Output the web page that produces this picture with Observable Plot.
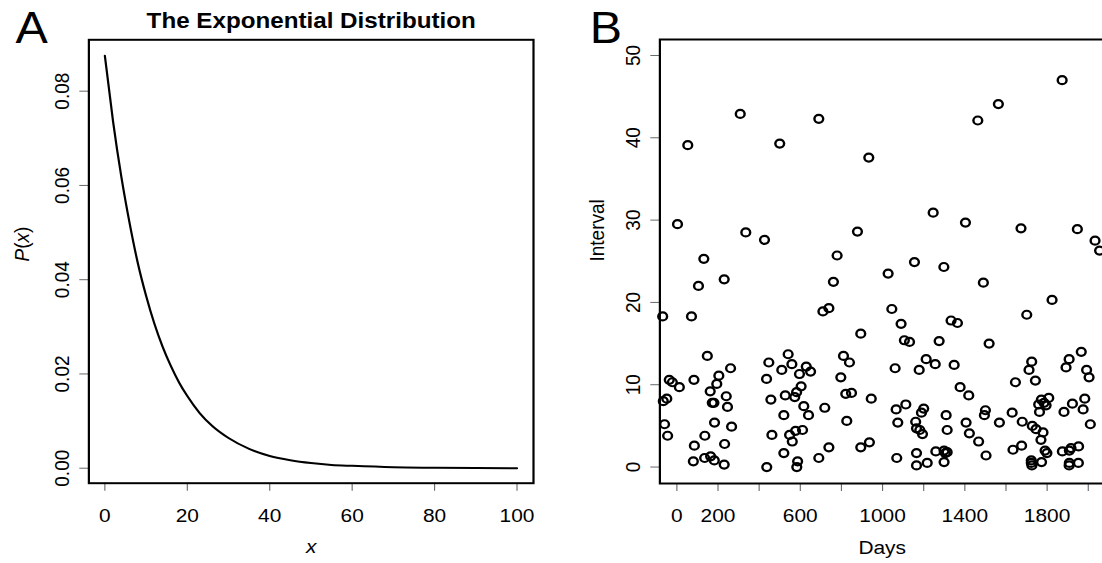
<!DOCTYPE html>
<html><head><meta charset="utf-8">
<script src="https://cdn.jsdelivr.net/npm/d3@7"></script>
<script src="https://cdn.jsdelivr.net/npm/@observablehq/plot@0.6"></script>
<style>
html,body{margin:0;padding:0;background:#fff;overflow:hidden;}
#outer{position:relative;width:1102px;height:563px;overflow:hidden;background:#fff;}
#inner{position:absolute;left:0;top:0;width:1100px;height:563px;transform:scaleX(1.1);transform-origin:0 0;}
#panelA,#panelB{position:absolute;top:0;}
#panelA{left:0;width:501px;} #panelB{left:501px;width:520px;}
#inner svg{max-width:none !important;}
</style></head><body>
<div id="outer"><div id="inner"><div id="panelA"></div><div id="panelB"></div></div></div>
<script>
// ---- Panel A: exponential density curve
const curveX = [0, 2, 4, 6, 8, 10, 12, 14, 16, 18, 20, 23, 26, 30, 35, 40, 45, 50, 55, 60, 70, 80, 90, 100];
const curveP = [0.0875, 0.0735, 0.0618, 0.0520, 0.0435, 0.0366, 0.0307, 0.0258, 0.0217, 0.0182, 0.0153, 0.0117, 0.0090, 0.0064, 0.0041, 0.0026, 0.0017, 0.0011, 0.0007, 0.0005, 0.0002, 0.0001, 0.00003, 0.00001];
const xTicksA = [0, 20, 40, 60, 80, 100];
const xTickLabelsA = ["0", "20", "40", "60", "80", "100"];
const yTicksA = [0, 0.02, 0.04, 0.06, 0.08];
const yTickLabelsA = ["0.00", "0.02", "0.04", "0.06", "0.08"];

// ---- Panel B: intervals vs days
const days = [53,308,500,690,3,335,426,1873,1563,1463,933,1246,1403,1673,1947,2033,2055,878,
779,131,105,230,761,-69,71,710,739,
148,447,541,510,559,629,650,596,261,
810,797,436,-37,-22,12,83,204,194,162,240,246,172,180,
604,582,573,527,457,617,640,719,520,
-66,-49,-60,-45,183,266,136,85,232,
80,135,164,182,230,
462,548,577,611,561,520,739,690,587,583,437,
1155,1027,1298,1490,1824,1701,1045,1090,1333,1364,894,1106,1131,1275,1518,
839,1061,1178,1212,1256,1348,1725,1712,1743,1646,1907,1892,1966,1992,2004,
1377,1419,821,849,945,1113,1066,1200,1189,1309,1500,1495,1630,1568,1679,1406,1422,1467,1314,
826,1074,1161,1165,1181,1194,
1759,1772,1808,1785,1795,1763,1923,1983,1975,1882,2010,
1728,1746,1780,1770,1790,1799,1634,1676,1874,1908,1916,1953,
1907,1908,1952,1723,1723,1726,1773,1503,
894,936,1069,1165,1165,1217,1259,1299,1314,1299,1305];
const intervals = [39.1,42.9,39.3,42.3,29.5,28.5,27.6,47.0,44.1,42.1,37.6,30.9,29.7,29.0,28.9,27.5,26.3,28.6,
25.7,25.3,22.0,22.8,22.5,18.3,18.3,18.9,19.3,
13.5,12.7,13.7,11.8,12.5,12.2,11.6,11.3,12.0,
13.5,10.9,10.7,10.6,10.3,9.7,10.6,11.1,10.1,9.2,8.6,7.3,7.8,7.8,
9.8,9.1,8.5,8.7,8.2,7.4,6.3,7.2,6.3,
8.0,8.3,5.2,3.8,5.4,4.9,3.8,2.6,2.8,
0.7,1.1,1.3,0.8,0.3,
3.9,3.9,4.4,4.5,3.1,1.7,2.4,1.1,0.7,0.0,0.0,
24.9,23.5,24.3,22.4,20.3,18.5,19.2,17.4,17.8,17.5,16.2,15.4,15.2,15.3,15.0,
12.7,12.0,11.8,13.1,12.5,12.4,12.8,11.8,10.5,10.3,13.1,12.1,14.0,11.8,10.9,
9.7,8.7,8.9,9.0,8.3,7.6,7.0,7.1,6.6,6.3,6.9,6.3,6.6,5.4,5.5,5.4,4.1,3.1,4.5,
5.6,5.4,5.5,4.7,4.5,4.0,
7.6,8.2,8.4,7.8,7.5,6.7,7.7,8.3,7.0,6.7,5.2,
5.0,4.6,4.2,3.3,2.0,1.7,2.1,2.6,1.9,2.0,2.3,2.5,
0.2,0.5,0.5,0.5,0.8,0.2,0.6,1.4,
2.4,3.0,1.1,1.7,0.2,0.5,1.9,2.0,1.8,0.6,1.7];
const xTicksB = [0, 200, 400, 600, 800, 1000, 1200, 1400, 1600, 1800, 2000];
const xTickLabelsB = ["0", "200", "", "600", "", "1000", "", "1400", "", "1800", ""];
const yTicksB = [0, 10, 20, 30, 40, 50];
const yTickLabelsB = ["0", "10", "20", "30", "40", "50"];

const FONT = '"Liberation Sans", Arial, Helvetica, sans-serif';
const curveData = curveX.map((x, i) => ({x, p: curveP[i]}));
const pointData = days.map((d, i) => ({day: d, interval: intervals[i]}));
const lab = (ticks, labels) => d => labels[ticks.indexOf(d)];

const axisStyle = {fontSize: 19, stroke: "#666", fill: "black", label: null};

const plotA = Plot.plot({
  width: 501, height: 563,
  marginLeft: 80.3, marginRight: 16.5, marginTop: 39.3, marginBottom: 80.3,
  style: {fontFamily: FONT, background: "white", color: "black"},
  x: {domain: [-3.88, 104.0]},
  y: {domain: [-0.00318, 0.0909]},
  marks: [
    Plot.axisX(xTicksA, {...axisStyle, tickSize: 8, tickPadding: 17, tickFormat: lab(xTicksA, xTickLabelsA)}),
    Plot.axisY(yTicksA, {...axisStyle, tickSize: 8.2, tickPadding: 10, tickRotate: -90, tickFormat: lab(yTicksA, yTickLabelsA)}),
    Plot.line(curveData, {x: "x", y: "p", stroke: "black", strokeWidth: 2, curve: "monotone-x"}),
    Plot.frame({stroke: "black", strokeWidth: 2}),
    Plot.text(["The Exponential Distribution"], {text: d => d, frameAnchor: "top", lineAnchor: "bottom", dy: -12.3, fontSize: 22, fontWeight: "bold"}),
    Plot.text(["A"], {text: d => d, frameAnchor: "top-left", textAnchor: "start", lineAnchor: "bottom", dx: -66.7, dy: 2.7, fontSize: 44}),
    Plot.text(["x"], {text: d => d, frameAnchor: "bottom", lineAnchor: "bottom", dy: 70, fontSize: 19, fontStyle: "italic"}),
    Plot.text(["P(x)"], {text: d => d, frameAnchor: "left", rotate: -90, lineAnchor: "bottom", dx: -54.8, fontSize: 19})
  ]
});

d3.select(plotA).selectAll("text").filter(function(){ return this.textContent === "P(x)"; }).each(function(){
  const t = d3.select(this); t.text(null);
  t.append("tspan").attr("font-style", "italic").text("P");
  t.append("tspan").text("(");
  t.append("tspan").attr("font-style", "italic").text("x");
  t.append("tspan").text(")");
});

const plotB = Plot.plot({
  width: 520, height: 563,
  marginLeft: 98.4, marginRight: 17.4, marginTop: 39, marginBottom: 80,
  style: {fontFamily: FONT, background: "white", color: "black"},
  x: {domain: [-82.6, 2079]},
  y: {domain: [-2.0, 51.94]},
  marks: [
    Plot.axisX(xTicksB, {...axisStyle, tickSize: 8, tickPadding: 17, tickFormat: lab(xTicksB, xTickLabelsB)}),
    Plot.axisY(yTicksB, {...axisStyle, tickSize: 8.2, tickPadding: 10, tickRotate: -90, tickFormat: lab(yTicksB, yTickLabelsB)}),
    Plot.dot(pointData, {x: "day", y: "interval", r: 4, stroke: "black", strokeWidth: 2.2, fill: "none"}),
    Plot.frame({stroke: "black", strokeWidth: 2}),
    Plot.text(["B"], {text: d => d, frameAnchor: "top-left", textAnchor: "start", lineAnchor: "bottom", dx: -63.8, dy: 3, fontSize: 44}),
    Plot.text(["Days"], {text: d => d, frameAnchor: "bottom", lineAnchor: "bottom", dy: 70, fontSize: 19}),
    Plot.text(["Interval"], {text: d => d, frameAnchor: "left", rotate: -90, lineAnchor: "bottom", dx: -50.9, fontSize: 19})
  ]
});

document.getElementById("panelA").appendChild(plotA);
document.getElementById("panelB").appendChild(plotB);
</script>
</body></html>
